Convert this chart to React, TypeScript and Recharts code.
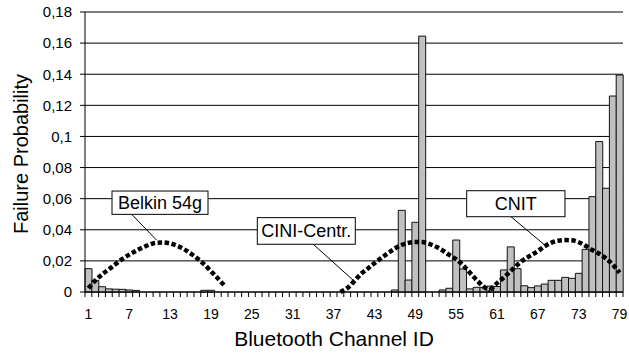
import React from 'react';
import { ComposedChart, Bar, Line, XAxis, YAxis, CartesianGrid, ReferenceDot } from 'recharts';

// ---------- data ----------
const CHANNELS: number[] = Array.from({ length: 79 }, (_, i) => i + 1);

const FAILURE_PROBABILITY: number[] = [
  0.015, 0.0075, 0.0034, 0.002, 0.0018, 0.0017, 0.0013, 0.001, 0, 0, // 1-10
  0, 0, 0, 0, 0, 0, 0, 0.0011, 0.0011, 0, // 11-20
  0, 0, 0, 0, 0, 0, 0, 0, 0, 0, // 21-30
  0, 0, 0, 0, 0, 0, 0, 0, 0, 0, // 31-40
  0, 0, 0, 0, 0, 0.0013, 0.0525, 0.0077, 0.0448, 0.1645, // 41-50
  0, 0, 0.0013, 0.0024, 0.0334, 0.0148, 0.002, 0.003, 0.003, 0.0038, // 51-60
  0.0035, 0.0142, 0.029, 0.015, 0.004, 0.0028, 0.0039, 0.0051, 0.0075, 0.0075, // 61-70
  0.0094, 0.0088, 0.012, 0.0274, 0.0613, 0.0967, 0.0667, 0.126, 0.1395, // 71-79
];

const BELKIN_FROM = 1;
const BELKIN: number[] = [
  0.0025, 0.0073, 0.0113, 0.0145, 0.018, 0.0213, 0.024, 0.0265, 0.0287, 0.0305,
  0.0317, 0.0318, 0.0312, 0.0298, 0.0276, 0.0248, 0.0215, 0.0178, 0.0133, 0.0088, 0.004,
];

const CINI_FROM = 38;
const CINI: number[] = [
  0, 0.0025, 0.0068, 0.0115, 0.015, 0.0185, 0.0218, 0.025, 0.028, 0.0302, 0.0316, 0.0322,
  0.0321, 0.031, 0.0292, 0.0268, 0.0238, 0.021, 0.0173, 0.0125, 0.0077, 0.0035, 0.0008,
];

const CNIT_FROM = 60;
const CNIT: number[] = [
  0.0013, 0.0057, 0.0093, 0.0135, 0.0175, 0.021, 0.0236, 0.0263, 0.0294, 0.0317,
  0.033, 0.0334, 0.0332, 0.032, 0.0297, 0.027, 0.0246, 0.0216, 0.0175, 0.0124,
];

const X_TICK_LABELS: number[] = [1, 7, 13, 19, 25, 31, 37, 43, 49, 55, 61, 67, 73, 79];
const Y_TICKS: number[] = [0, 0.02, 0.04, 0.06, 0.08, 0.1, 0.12, 0.14, 0.16, 0.18];

const ANNOTATION_TEXT: string[] = ['Belkin 54g', 'CINI-Centr.', 'CNIT'];
const ANNOTATION_CHANNEL: number[] = [11, 40, 68];
const ANNOTATION_VALUE: number[] = [0.0334, 0.0071, 0.0302];

// ---------- layout / style ----------
const WIDTH = 629;
const HEIGHT = 354;
const MARGIN = { top: 12, right: 6, bottom: 0, left: 0 };
const Y_AXIS_W = 85;
const X_AXIS_H = 62;
const BAND = (WIDTH - MARGIN.left - MARGIN.right - Y_AXIS_W) / CHANNELS.length;
const FONT = "'Liberation Sans', Arial, Helvetica, sans-serif";

const BOX_LAYOUT = [
  { dx: -44.5, dy: -49, w: 96, h: 23.3, lx: -24.8 },
  { dx: -96.7, dy: -63.3, w: 98, h: 26.6, lx: -40.7 },
  { dx: -78, dy: -54.3, w: 98.3, h: 26, lx: -33.7 },
];

const pick = (arr: number[], from: number, ch: number) => {
  const i = ch - from;
  return i >= 0 && i < arr.length ? arr[i] : null;
};

const data = CHANNELS.map((ch, i) => ({
  ch,
  failure: FAILURE_PROBABILITY[i],
  belkin: pick(BELKIN, BELKIN_FROM, ch),
  cini: pick(CINI, CINI_FROM, ch),
  cnit: pick(CNIT, CNIT_FROM, ch),
}));

const XTick = (props: any) => {
  const { x, y, payload } = props;
  const v = payload.value;
  const half = BAND / 2;
  const isLast = v === CHANNELS[CHANNELS.length - 1];
  return (
    <g>
      <line x1={x - half} x2={x - half} y1={y} y2={y + 5} stroke="#000" strokeWidth={1} />
      {isLast && <line x1={x + half} x2={x + half} y1={y} y2={y + 5} stroke="#000" strokeWidth={1} />}
      {X_TICK_LABELS.includes(v) && (
        <text x={x} y={y + 27} textAnchor="middle" fontSize={14} fontFamily={FONT} fill="#000">
          {v}
        </text>
      )}
    </g>
  );
};

const makeCallout = (idx: number) => (p: any) => {
  const { cx, cy } = p;
  const b = BOX_LAYOUT[idx];
  const left = cx + b.dx;
  const top = cy + b.dy;
  return (
    <g>
      <line x1={cx + b.lx} y1={top + b.h} x2={cx} y2={cy} stroke="#000" strokeWidth={1} />
      <rect x={left} y={top} width={b.w} height={b.h} fill="#fff" stroke="#000" strokeWidth={1} />
      <text
        x={left + b.w / 2}
        y={top + b.h / 2 + 6.5}
        textAnchor="middle"
        fontSize={18}
        fontFamily={FONT}
        fill="#000"
      >
        {ANNOTATION_TEXT[idx]}
      </text>
    </g>
  );
};

export default function App() {
  return (
    <div style={{ position: 'absolute', left: 0, top: 0, width: WIDTH, height: HEIGHT, background: '#fff' }}>
      <ComposedChart
        width={WIDTH}
        height={HEIGHT}
        data={data}
        margin={MARGIN}
        barCategoryGap={0}
        barGap={0}
      >
        <CartesianGrid vertical={false} stroke="#000" strokeWidth={1} />
        <XAxis
          dataKey="ch"
          type="category"
          interval={0}
          height={X_AXIS_H}
          tickLine={false}
          tickSize={0}
          tickMargin={0}
          axisLine={{ stroke: '#000' }}
          tick={(p: any) => <XTick {...p} />}
          label={{
            content: () => (
              <text x={334} y={346} textAnchor="middle" fontSize={21} fontFamily={FONT} fill="#000">
                Bluetooth Channel ID
              </text>
            ),
          }}
        />
        <XAxis
          xAxisId="top"
          dataKey="ch"
          orientation="top"
          height={0}
          tick={false}
          tickLine={false}
          axisLine={{ stroke: '#808080' }}
        />
        <YAxis
          domain={[0, 0.18]}
          ticks={Y_TICKS}
          interval={0}
          width={Y_AXIS_W}
          tickSize={5}
          tickMargin={8}
          tickLine={{ stroke: '#000' }}
          axisLine={{ stroke: '#000' }}
          tick={{ fontSize: 15, fill: '#000', fontFamily: FONT }}
          tickFormatter={(v: number) => String(v).replace('.', ',')}
          label={{
            content: () => (
              <text
                transform="translate(28,154) rotate(-90)"
                textAnchor="middle"
                fontSize={20}
                fontFamily={FONT}
                fill="#000"
              >
                Failure Probability
              </text>
            ),
          }}
        />
        <YAxis
          yAxisId="right"
          orientation="right"
          width={0}
          domain={[0, 0.18]}
          tick={false}
          tickLine={false}
          axisLine={{ stroke: '#808080' }}
        />
        <Bar dataKey="failure" fill="#c0c0c0" stroke="#111" strokeWidth={1} isAnimationActive={false} />
        <Line type="monotone" dataKey="belkin" stroke="#000" strokeWidth={4.5} strokeDasharray="4.5 2.5" dot={false} activeDot={false} isAnimationActive={false} />
        <Line type="monotone" dataKey="cini" stroke="#000" strokeWidth={4.5} strokeDasharray="4.5 2.5" dot={false} activeDot={false} isAnimationActive={false} />
        <Line type="monotone" dataKey="cnit" stroke="#000" strokeWidth={4.5} strokeDasharray="4.5 2.5" dot={false} activeDot={false} isAnimationActive={false} />
        {ANNOTATION_TEXT.map((t, i) => (
          <ReferenceDot
            key={t}
            x={ANNOTATION_CHANNEL[i]}
            y={ANNOTATION_VALUE[i]}
            r={0}
            ifOverflow="visible"
            shape={makeCallout(i)}
          />
        ))}
      </ComposedChart>
    </div>
  );
}
